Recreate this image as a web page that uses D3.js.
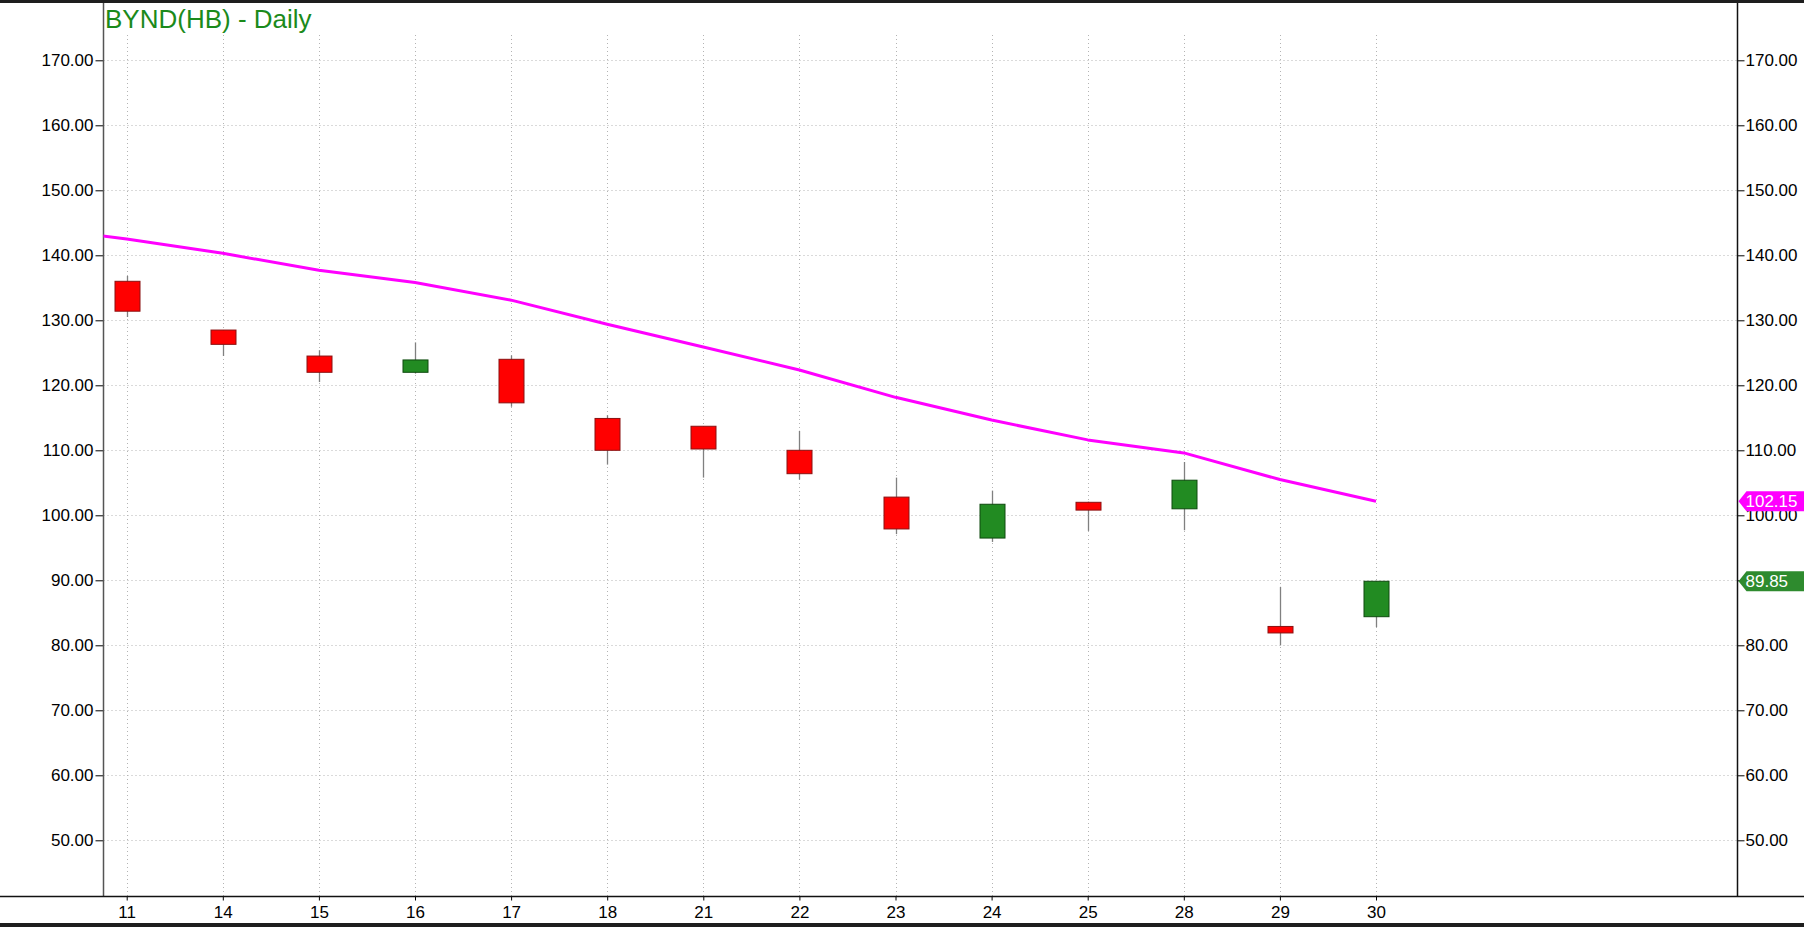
<!DOCTYPE html>
<html>
<head>
<meta charset="utf-8">
<script src="https://cdn.jsdelivr.net/npm/d3@7"></script>
<style>
  html, body { margin: 0; padding: 0; background: #fff; }
  svg { display: block; }
  text { font-family: Arial, 'Liberation Sans', sans-serif; }
</style>
</head>
<body>
<script>
// daily candles
let dates = ['11', '14', '15', '16', '17', '18', '21', '22', '23', '24', '25', '28', '29', '30']
let open = [136.0, 128.5, 124.5, 122.0, 124.0, 114.9, 113.7, 110.0, 102.8, 96.5, 102.0, 101.0, 82.9, 84.4]
let high = [136.8, 128.5, 125.4, 126.6, 124.6, 115.4, 113.7, 113.0, 105.8, 103.8, 102.1, 108.2, 89.0, 89.85]
let low = [130.5, 124.5, 120.5, 121.8, 116.7, 107.8, 105.8, 105.5, 97.1, 95.9, 97.6, 97.7, 80.0, 82.8]
let close = [131.4, 126.3, 122.0, 123.9, 117.3, 110.0, 110.2, 106.4, 97.9, 101.7, 100.8, 105.4, 81.9, 89.85]
// moving average, plus the value from the day before the first visible one
let ma = [142.5, 140.3, 137.7, 135.8, 133.1, 129.4, 125.9, 122.35, 118.15, 114.65, 111.6, 109.6, 105.5, 102.15]
let maPrev = 144.4
let yTicks = [50, 60, 70, 80, 90, 100, 110, 120, 130, 140, 150, 160, 170]
let title = 'BYND(HB) - Daily'

renderChart()

function renderChart() {
  let width = 1804
  let height = 927
  let left = 103.5
  let right = 1737.5
  let top = 3
  let bottom = 896.5

  let xScale = d3.scaleLinear()
    .domain([0, dates.length - 1])
    .range([126.7, 1376])
  let yScale = d3.scaleLinear()
    .domain([50, 170])
    .range([840.3, 60.3])

  let svg = d3.select('body').append('svg')
    .attr('width', width)
    .attr('height', height)

  svg.append('rect').attr('width', width).attr('height', height).attr('fill', '#fff')

  // top border and bottom tab strip
  svg.append('rect').attr('x', 0).attr('y', 0).attr('width', width).attr('height', 3).attr('fill', '#1e1e1e')
  svg.append('rect').attr('x', 0).attr('y', 923).attr('width', width).attr('height', 4).attr('fill', '#1e1e1e')

  svg.append('clipPath').attr('id', 'plot')
    .append('rect')
    .attr('x', left).attr('y', top)
    .attr('width', right - left).attr('height', bottom - top)

  // grid
  let grid = svg.append('g')
  grid.selectAll('line.h')
    .data(yTicks)
    .enter()
    .append('line')
    .attr('x1', left).attr('x2', right)
    .attr('y1', d => Math.round(yScale(d)) + 0.5)
    .attr('y2', d => Math.round(yScale(d)) + 0.5)
    .attr('stroke', '#b4b4b4')
    .attr('stroke-width', 1)
    .attr('stroke-dasharray', '1,3')
  grid.selectAll('line.v')
    .data(dates)
    .enter()
    .append('line')
    .attr('x1', (d, i) => Math.round(xScale(i)) + 0.5)
    .attr('x2', (d, i) => Math.round(xScale(i)) + 0.5)
    .attr('y1', 35).attr('y2', bottom)
    .attr('stroke', '#b4b4b4')
    .attr('stroke-width', 1)
    .attr('stroke-dasharray', '1,3')

  // axes
  let leftAxis = d3.axisLeft(yScale).tickValues(yTicks).tickSize(8).tickPadding(2).tickFormat(d3.format('.2f'))
  let rightAxis = d3.axisRight(yScale).tickValues(yTicks).tickSize(7).tickPadding(1).tickFormat(d3.format('.2f'))
  let bottomAxis = d3.axisBottom(xScale).tickValues(d3.range(dates.length)).tickSize(4).tickPadding(5).tickFormat(i => dates[i])

  let gl = svg.append('g').attr('transform', `translate(${left},0)`).call(leftAxis)
  let gr = svg.append('g').attr('transform', `translate(${right},0)`).call(rightAxis)
  let gb = svg.append('g').attr('transform', `translate(0,${bottom})`).call(bottomAxis)

  ;[gl, gr, gb].forEach(g => {
    g.select('.domain').remove()
    g.selectAll('line').attr('stroke', '#000')
    g.selectAll('text').attr('fill', '#000').style('font-size', '17px').style('font-family', 'Arial, "Liberation Sans", sans-serif')
  })

  svg.append('line').attr('x1', left).attr('x2', left).attr('y1', top).attr('y2', bottom)
    .attr('stroke', '#555').attr('stroke-width', 1.5)
  svg.append('line').attr('x1', right).attr('x2', right).attr('y1', top).attr('y2', bottom)
    .attr('stroke', '#111').attr('stroke-width', 1.5)
  svg.append('line').attr('x1', 0).attr('x2', width).attr('y1', bottom).attr('y2', bottom)
    .attr('stroke', '#111').attr('stroke-width', 1.5)

  // candles
  let plot = svg.append('g').attr('clip-path', 'url(#plot)')
  let candles = plot.selectAll('g.candle')
    .data(dates.map((d, i) => ({ i, o: open[i], h: high[i], l: low[i], c: close[i] })))
    .enter()
    .append('g')

  candles.append('line')
    .attr('x1', d => Math.round(xScale(d.i)) + 0.5)
    .attr('x2', d => Math.round(xScale(d.i)) + 0.5)
    .attr('y1', d => yScale(d.h))
    .attr('y2', d => yScale(d.l))
    .attr('stroke', '#808080')
    .attr('stroke-width', 1.3)

  candles.append('rect')
    .attr('x', d => Math.round(xScale(d.i)) - 12)
    .attr('width', 25)
    .attr('y', d => yScale(Math.max(d.o, d.c)))
    .attr('height', d => Math.max(1, yScale(Math.min(d.o, d.c)) - yScale(Math.max(d.o, d.c))))
    .attr('fill', d => d.c >= d.o ? '#228b22' : '#ff0000')
    .attr('stroke', d => d.c >= d.o ? '#0e4a0e' : '#8a1010')
    .attr('stroke-width', 1)

  // moving average
  let line = d3.line()
    .x(d => xScale(d.i))
    .y(d => yScale(d.v))
  let maData = [{ i: -1, v: maPrev }].concat(ma.map((v, i) => ({ i, v })))
  plot.append('path')
    .attr('fill', 'none')
    .attr('stroke', '#ff00ff')
    .attr('stroke-width', 3)
    .attr('stroke-linejoin', 'round')
    .attr('d', line(maData))

  // title
  svg.append('text')
    .attr('x', 105)
    .attr('y', 28)
    .attr('fill', '#1b8a1b')
    .style('font-size', '26px')
    .text(title)

  // last value tags on the right axis
  let tags = [
    { v: ma[ma.length - 1], color: '#ff00ff' },
    { v: close[close.length - 1], color: '#2e8b2e' }
  ]
  let tag = svg.selectAll('g.tag')
    .data(tags)
    .enter()
    .append('g')
    .attr('transform', d => `translate(${right},${yScale(d.v)})`)
  tag.append('path')
    .attr('d', 'M1,0 L9,-10 L70,-10 L70,10 L9,10 Z')
    .attr('fill', d => d.color)
  tag.append('text')
    .attr('x', 8)
    .attr('y', 6)
    .attr('fill', '#fff')
    .style('font-size', '17px')
    .text(d => d3.format('.2f')(d.v))
}
</script>
</body>
</html>
